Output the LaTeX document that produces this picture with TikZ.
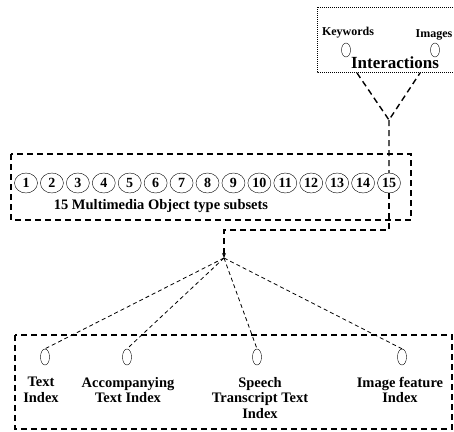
\documentclass[tikz,border=0pt]{standalone}
\usepackage{fontspec}
\setmainfont{Liberation Serif}
\usetikzlibrary{shapes.geometric,arrows.meta}

\begin{document}
\begin{tikzpicture}[x=1pt,y=-1pt,
  lbl/.style={font=\bfseries\fontsize{14.5}{15.5}\selectfont, inner sep=0pt, align=center},
  obj/.style={draw, ellipse, minimum width=23pt, minimum height=20pt, inner sep=0pt, font=\bfseries\fontsize{14}{14}\selectfont},
  idx/.style={draw, ellipse, minimum width=9pt, minimum height=16pt, inner sep=0pt},
  frame/.style={line width=1.4pt, dash pattern=on 6pt off 4pt},
  link/.style={line width=0.8pt, dash pattern=on 4pt off 3pt}]
\useasboundingbox (0,0) rectangle (454,431);
% interactions
\draw[densely dotted, line width=1pt] (317,7) rectangle (460,72);
\node[lbl, font=\bfseries\fontsize{12}{12}\selectfont] (kw) at (348,33) {Keywords};
\node[idx, minimum height=14pt] (kwo) at (346,50) {};
\node[lbl, font=\bfseries\fontsize{12}{12}\selectfont] (im) at (434,35) {Images};
\node[idx, minimum height=14pt] (imo) at (435,50) {};
\node[lbl, font=\bfseries\fontsize{17}{17}\selectfont] (inter) at (395,63) {Interactions};
\coordinate (iL) at (357,73);
\coordinate (iR) at (420,73);
\coordinate (vee) at (389,120);
\draw[frame] (iL) -- (vee) -- (iR);
% object type subsets
\draw[frame] (11,154) rectangle (411,220);
\foreach \i in {1,...,15}
  \node[obj] (o\i) at ({26+(\i-1)*25.93},183) {\i};
\node[lbl] (subsets) at (161,206) {15 Multimedia Object type subsets};
\draw[frame] (vee) -- (o15);
\coordinate (hub) at (224,258);
\draw[frame, -{Stealth[length=5pt,width=4pt]}] (o15.south) |- (224,230) -- (hub);
% indexes
\draw[frame] (15,335) rectangle (452,429);
\node[idx] (t) at (45,357) {};
\node[idx] (a) at (127,357) {};
\node[idx] (s) at (257,357) {};
\node[idx] (f) at (402,357) {};
\foreach \n in {t,a,s,f}
  \draw[link] (hub) -- (\n.north);
\node[lbl] (tl) at (41,390) {Text\\Index};
\node[lbl] (al) at (128,390) {Accompanying\\Text Index};
\node[lbl] (sl) at (260,398) {Speech\\Transcript Text\\Index};
\node[lbl] (fl) at (400,390) {Image feature\\Index};
\end{tikzpicture}
\end{document}
